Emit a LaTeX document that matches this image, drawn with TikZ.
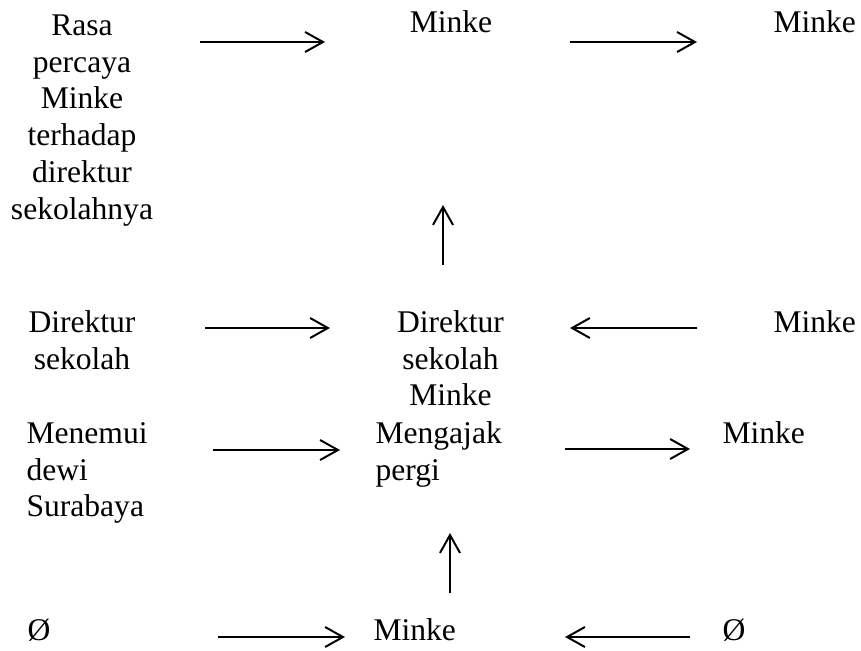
\documentclass[tikz,border=0pt]{standalone}
\usepackage{fontspec}
\setmainfont{Liberation Serif}
\usetikzlibrary{arrows.meta}

\begin{document}
\begin{tikzpicture}[
    x=0.38pt, y=-0.38pt,
    actant/.style={inner sep=0pt, font=\fontsize{12}{13.95}\selectfont},
    arrow/.style={-{Straight Barb[length=6.8pt, width=7.6pt]}, line width=0.75pt}
]
    \useasboundingbox (0,0) rectangle (861,650);

    % top row
    \node[actant, anchor=north, align=center] (sender) at (82,9.3)
        {\strut Rasa\\percaya\\Minke\\terhadap\\direktur\\sekolahnya};
    \node[actant, anchor=base] (object) at (451,33) {Minke};
    \node[actant, anchor=base west] (receiver) at (773,33) {Minke};

    % middle row
    \node[actant, anchor=north, align=center] (helper) at (82,306.3)
        {\strut Direktur\\sekolah};
    \node[actant, anchor=north, align=center] (subject) at (450.5,306.3)
        {\strut Direktur\\sekolah\\Minke};
    \node[actant, anchor=base west] (opponent) at (773,332) {Minke};

    \node[actant, anchor=north west, align=left] (goal) at (26,417.3)
        {\strut Menemui\\dewi\\Surabaya};
    \node[actant, anchor=north west, align=left] (action) at (375,417.3)
        {\strut Mengajak\\pergi};
    \node[actant, anchor=base west] (target) at (722,443) {Minke};

    % bottom row
    \node[actant, anchor=base west] (nullL) at (27,640) {Ø};
    \node[actant, anchor=base west] (minke) at (373,640) {Minke};
    \node[actant, anchor=base west] (nullR) at (722,640) {Ø};

    % arrow ends
    \coordinate (a1s) at (200,42);  \coordinate (a1e) at (325,42);
    \coordinate (a2s) at (570,42);  \coordinate (a2e) at (697,42);
    \coordinate (v1s) at (443,265); \coordinate (v1e) at (443,205);
    \coordinate (a3s) at (205,328); \coordinate (a3e) at (330,328);
    \coordinate (a4s) at (697,328); \coordinate (a4e) at (570,328);
    \coordinate (a5s) at (213,450); \coordinate (a5e) at (340,450);
    \coordinate (a6s) at (565,449); \coordinate (a6e) at (690,449);
    \coordinate (v2s) at (450,593); \coordinate (v2e) at (450,533);
    \coordinate (a7s) at (218,637); \coordinate (a7e) at (345,637);
    \coordinate (a8s) at (690,637); \coordinate (a8e) at (565,637);

    \draw[arrow] (a1s) -- (a1e);
    \draw[arrow] (a2s) -- (a2e);
    \draw[arrow] (v1s) -- (v1e);
    \draw[arrow] (a3s) -- (a3e);
    \draw[arrow] (a4s) -- (a4e);
    \draw[arrow] (a5s) -- (a5e);
    \draw[arrow] (a6s) -- (a6e);
    \draw[arrow] (v2s) -- (v2e);
    \draw[arrow] (a7s) -- (a7e);
    \draw[arrow] (a8s) -- (a8e);
\end{tikzpicture}
\end{document}
